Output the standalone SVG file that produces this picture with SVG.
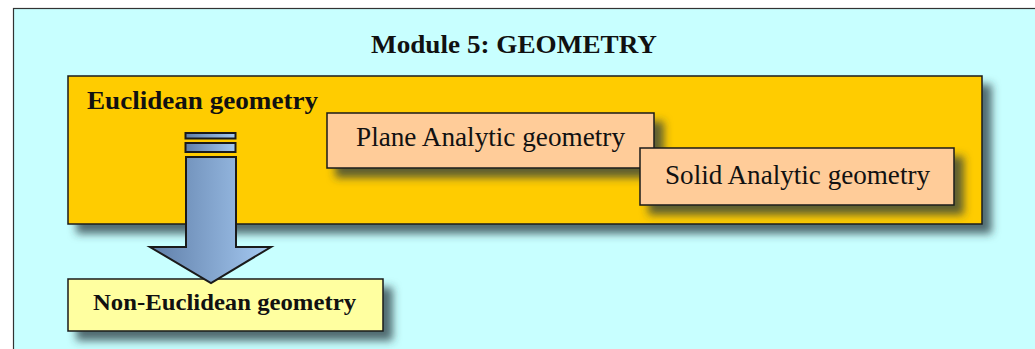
<svg xmlns="http://www.w3.org/2000/svg" width="1035" height="349" viewBox="0 0 1035 349">
<defs>
<filter id="sh" x="-10%" y="-20%" width="130%" height="160%">
<feDropShadow dx="9" dy="9" stdDeviation="4" flood-color="#2a3a40" flood-opacity="0.75"/>
</filter>
<linearGradient id="ag" x1="0" y1="0" x2="1" y2="0">
<stop offset="0" stop-color="#5f7ea8"/>
<stop offset="1" stop-color="#a6caf2"/>
</linearGradient>
<style>
.box{stroke:#1a1a1a;stroke-width:1.5}
.b{font-family:"Liberation Serif","Times New Roman",serif;font-weight:bold;fill:#111}
.r{font-family:"Liberation Serif","Times New Roman",serif;fill:#111}
.arr{fill:url(#ag);stroke:#1a1a1a;stroke-width:2;stroke-linejoin:miter}
</style>
</defs>
<rect x="0" y="0" width="1035" height="349" fill="#ffffff"/>
<rect x="13.5" y="8.5" width="1030" height="345" fill="#c8ffff" stroke="#333" stroke-width="1.2"/>
<text class="b" x="514" y="53" font-size="25" text-anchor="middle" textLength="286" lengthAdjust="spacingAndGlyphs">Module 5: GEOMETRY</text>
<g id="euclidean">
<rect class="box" x="68" y="76" width="914" height="148" fill="#ffcc00" filter="url(#sh)"/>
<text class="b" x="87" y="109" font-size="26" textLength="231" lengthAdjust="spacingAndGlyphs">Euclidean geometry</text>
</g>
<g id="plane">
<rect class="box" x="327" y="113" width="327" height="55" fill="#ffcc99" filter="url(#sh)"/>
<text class="r" x="356" y="146" font-size="27" textLength="269" lengthAdjust="spacingAndGlyphs">Plane Analytic geometry</text>
</g>
<g id="solid">
<rect class="box" x="640" y="148" width="314" height="57" fill="#ffcc99" filter="url(#sh)"/>
<text class="r" x="665" y="184" font-size="27" textLength="265" lengthAdjust="spacingAndGlyphs">Solid Analytic geometry</text>
</g>
<g id="noneuclidean">
<rect class="box" x="68" y="279" width="315" height="52" fill="#ffffa0" filter="url(#sh)"/>
<text class="b" x="93" y="310" font-size="23" textLength="263" lengthAdjust="spacingAndGlyphs">Non-Euclidean geometry</text>
</g>
<g id="connectors">
<rect class="arr" x="185.5" y="133" width="50" height="5.5"/>
<rect class="arr" x="185.5" y="143" width="50" height="9"/>
<path class="arr" d="M186 157 H236 V247 H271 L211 283 L150 247 H186 Z"/>
</g>
</svg>
